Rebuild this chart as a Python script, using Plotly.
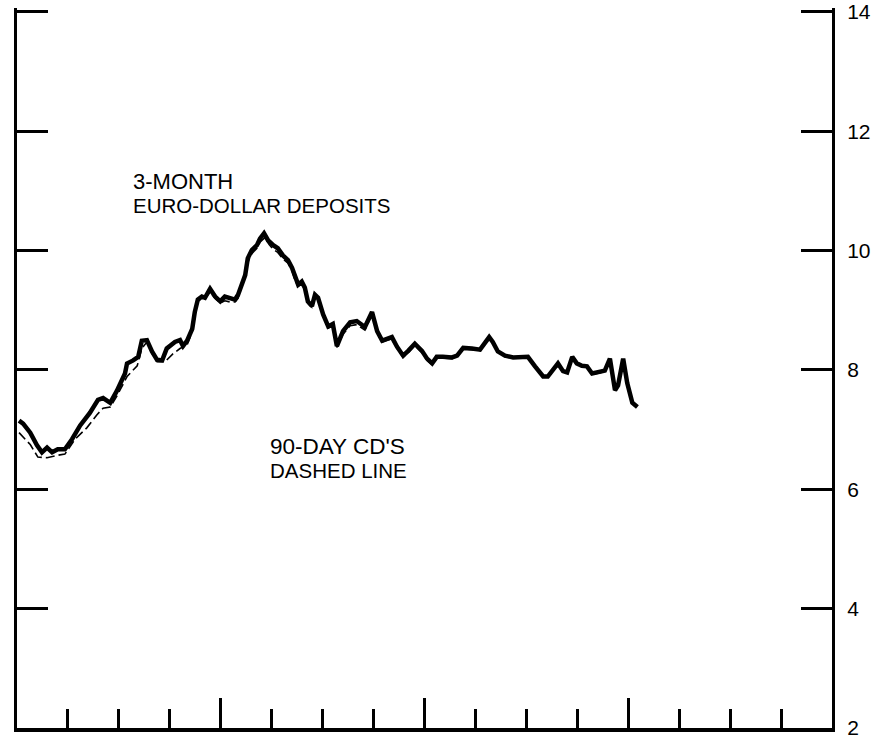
import plotly.graph_objects as go

# ---- data (x in quarters from start of chart, y in percent) ----
quarters_solid = [0.04, 0.12, 0.26, 0.39, 0.49, 0.59, 0.69, 0.80, 0.94, 1.08,
                  1.24, 1.43, 1.59, 1.69, 1.83, 1.96, 2.12, 2.16, 2.28, 2.38,
                  2.45, 2.55, 2.65, 2.75, 2.85, 2.94, 3.10, 3.20, 3.26, 3.34,
                  3.44, 3.49, 3.55, 3.63, 3.69, 3.79, 3.89, 3.99, 4.08, 4.18,
                  4.28, 4.34, 4.42, 4.48, 4.53, 4.61, 4.71, 4.77, 4.85, 4.93,
                  5.03, 5.12, 5.22, 5.32, 5.40, 5.46, 5.52, 5.59, 5.65, 5.71,
                  5.79, 5.85, 5.91, 6.01, 6.11, 6.20, 6.28, 6.40, 6.54, 6.67,
                  6.83, 6.97, 7.07, 7.17, 7.26, 7.36, 7.46, 7.58, 7.68, 7.81,
                  7.95, 8.05, 8.15, 8.24, 8.36, 8.54, 8.64, 8.76, 8.93, 9.09,
                  9.27, 9.34, 9.44, 9.58, 9.74, 9.87, 10.03, 10.17, 10.33, 10.42,
                  10.56, 10.62, 10.72, 10.80, 10.90, 10.99, 11.09, 11.19, 11.29, 11.44,
                  11.54, 11.64, 11.74, 11.80, 11.90, 11.98, 12.08, 12.18]
euro_dollar = [7.15, 7.10, 6.95, 6.74, 6.62, 6.70, 6.62, 6.67, 6.67, 6.84,
               7.07, 7.28, 7.50, 7.53, 7.45, 7.65, 7.94, 8.11, 8.16, 8.22,
               8.49, 8.50, 8.31, 8.17, 8.16, 8.36, 8.47, 8.50, 8.40, 8.49,
               8.69, 8.97, 9.18, 9.23, 9.21, 9.36, 9.23, 9.15, 9.23, 9.21,
               9.18, 9.26, 9.48, 9.59, 9.87, 10.01, 10.09, 10.20, 10.29, 10.17,
               10.09, 10.04, 9.92, 9.84, 9.71, 9.54, 9.43, 9.48, 9.38, 9.15,
               9.07, 9.26, 9.21, 8.93, 8.73, 8.77, 8.40, 8.65, 8.80, 8.82,
               8.72, 8.97, 8.65, 8.49, 8.52, 8.55, 8.39, 8.24, 8.32, 8.44,
               8.32, 8.19, 8.11, 8.22, 8.22, 8.21, 8.24, 8.37, 8.36, 8.34,
               8.55, 8.47, 8.31, 8.24, 8.21, 8.22, 8.22, 8.06, 7.89, 7.89,
               8.06, 8.11, 7.98, 7.96, 8.22, 8.11, 8.07, 8.06, 7.94, 7.96,
               7.99, 8.19, 7.66, 7.74, 8.19, 7.78, 7.45, 7.38]

quarters_dashed = [0.04, 0.16, 0.26, 0.41, 0.59, 0.79, 0.94, 1.14, 1.37, 1.57,
                   1.69, 1.83, 1.96, 2.16, 2.36, 2.45, 2.55, 2.65, 2.75, 2.91,
                   3.06, 3.20, 3.34, 3.44, 3.49, 3.55, 3.63, 3.69, 3.79, 3.89,
                   3.99, 4.08, 4.18, 4.28, 4.34, 4.42, 4.48, 4.53, 4.61, 4.71,
                   4.77, 4.87, 4.95, 5.03, 5.12, 5.22, 5.32, 5.40, 5.46, 5.52,
                   5.59, 5.65, 5.71, 5.79, 5.85, 5.91, 6.01, 6.11, 6.20, 6.28,
                   6.40, 6.54, 6.67, 6.83, 6.97, 7.07, 7.17, 7.26, 7.36, 7.46,
                   7.58, 7.68, 7.81, 7.95, 8.05, 8.15, 8.24, 8.36, 8.54, 8.64,
                   8.76, 8.93, 9.09, 9.27, 9.34, 9.44, 9.58, 9.74, 9.87, 10.03,
                   10.17, 10.33, 10.42, 10.56, 10.62, 10.72, 10.80, 10.90, 10.99, 11.09,
                   11.19, 11.29, 11.44, 11.54, 11.64, 11.74, 11.80, 11.90, 11.98, 12.08,
                   12.18]
cd_90day = [6.95, 6.84, 6.75, 6.54, 6.53, 6.57, 6.59, 6.84, 7.03, 7.25,
            7.36, 7.38, 7.56, 7.89, 8.07, 8.36, 8.47, 8.28, 8.14, 8.14,
            8.27, 8.36, 8.42, 8.64, 8.93, 9.15, 9.20, 9.19, 9.31, 9.20,
            9.12, 9.16, 9.14, 9.14, 9.20, 9.42, 9.55, 9.80, 9.95, 10.04,
            10.14, 10.22, 10.10, 10.02, 9.97, 9.86, 9.79, 9.66, 9.50, 9.40,
            9.44, 9.34, 9.12, 9.05, 9.22, 9.18, 8.90, 8.70, 8.74, 8.38,
            8.60, 8.74, 8.76, 8.67, 8.93, 8.62, 8.47, 8.50, 8.52, 8.36,
            8.21, 8.29, 8.41, 8.29, 8.16, 8.09, 8.20, 8.20, 8.19, 8.22,
            8.35, 8.34, 8.32, 8.53, 8.45, 8.30, 8.22, 8.20, 8.21, 8.21,
            8.05, 7.88, 7.88, 8.05, 8.10, 7.97, 7.95, 8.21, 8.10, 8.06,
            8.05, 7.93, 7.95, 7.98, 8.18, 7.65, 7.73, 8.18, 7.77, 7.44,
            7.35]

y_tick_values = [2, 4, 6, 8, 10, 12, 14]
y_tick_labels = ["2", "4", "6", "8", "10", "12", "14"]

FONT = "Liberation Sans, Arial, Helvetica, sans-serif"

fig = go.Figure()
fig.add_trace(go.Scatter(x=quarters_dashed, y=cd_90day, mode="lines",
                         line=dict(color="black", width=1.6, dash="9px,4px"),
                         showlegend=False, hoverinfo="skip"))
fig.add_trace(go.Scatter(x=quarters_solid, y=euro_dollar, mode="lines",
                         line=dict(color="black", width=4.5),
                         showlegend=False, hoverinfo="skip"))

fig.add_annotation(x=2.24, y=10.96, xref="x", yref="y",
                   text="<span style='font-size:22px'>3-MONTH</span><br>"
                        "<span style='font-size:20.5px'>EURO-DOLLAR DEPOSITS</span>",
                   showarrow=False, xanchor="left", yanchor="middle", align="left",
                   font=dict(family=FONT, size=18.5, color="black"))
fig.add_annotation(x=4.93, y=6.52, xref="x", yref="y",
                   text="<span style='font-size:22.5px'>90-DAY CD'S</span><br>"
                        "<span style='font-size:20.5px'>DASHED LINE</span>",
                   showarrow=False, xanchor="left", yanchor="middle", align="left",
                   font=dict(family=FONT, size=18.7, color="black"))

fig.update_layout(
    width=872, height=739,
    margin=dict(l=17, r=40, t=0, b=9),
    paper_bgcolor="white", plot_bgcolor="white",
    xaxis=dict(range=[0, 16], showgrid=False, zeroline=False,
               showline=True, linecolor="black", linewidth=3.5,
               ticks="inside", tickmode="linear", tick0=0, dtick=4,
               ticklen=30, tickwidth=3, tickcolor="black",
               showticklabels=False,
               minor=dict(ticks="inside", tickmode="linear", tick0=0, dtick=1,
                          ticklen=19, tickwidth=3, tickcolor="black",
                          showgrid=False)),
    yaxis=dict(range=[2, 14.066], side="right", showgrid=False, zeroline=False,
               showline=True, linecolor="black", linewidth=3,
               mirror="ticks",
               ticks="inside", tickmode="array", tickvals=y_tick_values,
               ticktext=y_tick_labels, ticklen=31, tickwidth=3,
               tickcolor="black", ticklabelstandoff=8,
               ticklabeloverflow="allow",
               tickfont=dict(family=FONT, size=21, color="black")),
)

fig.write_html("out.html",
               config={"displayModeBar": False},
               post_script="document.body.style.margin='0';"
                           "document.body.style.overflow='hidden';")
